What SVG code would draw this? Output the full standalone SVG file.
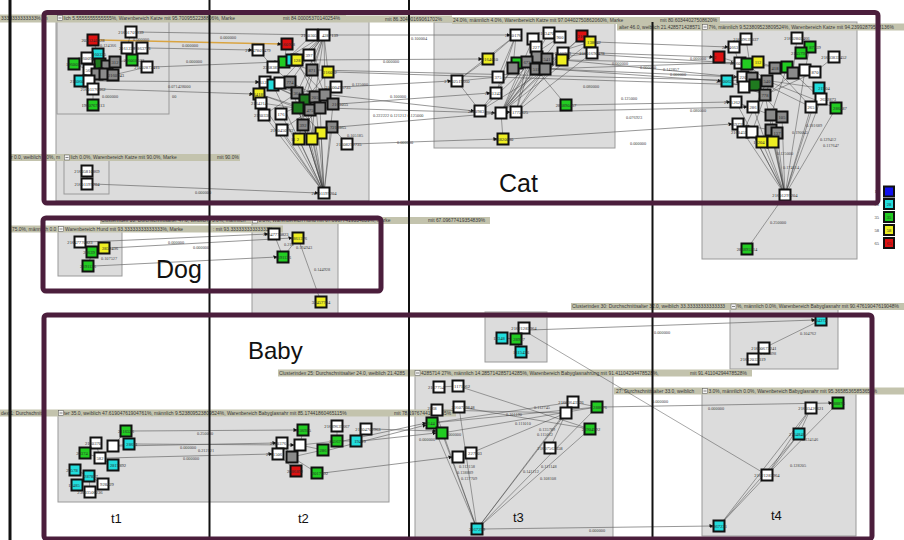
<svg xmlns="http://www.w3.org/2000/svg" width="904" height="540" viewBox="0 0 904 540">
<style>
.box{fill:#dcdcdc;stroke:#9a9a9a;stroke-width:1}
.hd{fill:#c3c3ad}
.ht{font-family:"Liberation Sans",Arial,sans-serif;font-size:4.9px;fill:#3a3a3a}
.ic{fill:#f4f4f4;stroke:#555;stroke-width:0.5}
.n{stroke:#111;stroke-width:2}
.w{fill:#fff}.g{fill:#22cc22}.c{fill:#22dddd}.y{fill:#eeee22}.r{fill:#dd1111}.b{fill:#1111ee}
.d{fill:#8a8a8a}.dg{fill:#1f7a1f}
.nt{font-family:"Liberation Serif","DejaVu Serif",serif;font-size:4.6px;fill:#2a2a2a;text-anchor:middle}
.e line{stroke:#3a3a3a;stroke-width:0.45;marker-end:url(#ah)}
.e .lg{stroke:#6a6a6a;stroke-width:0.7}
.e .or{stroke:#d9a441;stroke-width:1.4}
.el{font-family:"Liberation Serif","DejaVu Serif",serif;font-size:4.3px;fill:#444}
.vl{stroke:#111;stroke-width:2}
.fr{fill:none;stroke:#4b1e3c;stroke-width:5}
.big{font-family:"Liberation Sans",Arial,sans-serif;fill:#111}
.lt{font-family:"Liberation Serif",serif;font-size:4.5px;fill:#333;text-anchor:end}
</style>
<defs>
<marker id="ah" markerWidth="4" markerHeight="4" refX="3.5" refY="2" orient="auto" markerUnits="userSpaceOnUse">
<path d="M0,0 L4,2 L0,4 Z" fill="#111"/>
</marker>
</defs>
<rect width="904" height="540" fill="#fff"/>

<!-- cluster boxes -->
<g id="boxes">
<rect class="box" x="56" y="20" width="313" height="181"/>
<rect class="box" x="57" y="21" width="112" height="93"/>
<rect class="box" x="64" y="160" width="45" height="34"/>
<rect class="box" x="434" y="22" width="181" height="126"/>
<rect class="box" x="702" y="22" width="155" height="237"/>
<rect class="box" x="58" y="229" width="64" height="47"/>
<rect class="box" x="252" y="222" width="86" height="92"/>
<rect class="box" x="485" y="312" width="62" height="50"/>
<rect class="box" x="730" y="307" width="108" height="62"/>
<rect class="box" x="415" y="375" width="198" height="170"/>
<rect class="box" x="702" y="391" width="154" height="145"/>
<rect class="box" x="58" y="414" width="331" height="88"/>
</g>

<!-- cluster headers -->
<g id="headers">
<rect class="hd" x="0" y="15.5" width="452" height="7"/>
<text class="ht" x="339" y="21">rke</text>
<text class="ht" x="385" y="21">mit 86.30400169061702%</text>
<rect class="hd" x="0" y="14.5" width="346" height="7"/>
<text class="ht" x="1" y="20">3333333333333%, m</text>
<rect class="ic" x="57.5" y="15.5" width="5" height="5"/><path d="M58.5 18h3" stroke="#333" stroke-width="0.6"/>
<text class="ht" x="63.5" y="20">lich 5.5555555555555%, Warenbereich Katze mit 95.7009552238806%, Marke</text>
<text class="ht" x="283" y="20">mit 84.00005370140254%</text>

<rect class="hd" x="452" y="17" width="268" height="7"/>
<text class="ht" x="453" y="22.3">24.0%, männlich 4.0%, Warenbereich Katze mit 97.04402750862060%, Marke</text>
<text class="ht" x="660" y="22.3">mit 80.60344027508620%</text>

<rect class="hd" x="617" y="23.5" width="287" height="7"/>
<text class="ht" x="619" y="28.8">alter 46.0, weiblich 21.428571428571</text>
<rect class="ic" x="702.5" y="24.5" width="5" height="5"/><path d="M703.5 27h3" stroke="#333" stroke-width="0.6"/>
<text class="ht" x="708.5" y="28.8">7%, männlich 9.523809523809524%, Warenbereich Katze mit 94.23992879588136%</text>

<rect class="hd" x="10" y="154" width="230" height="7"/>
<text class="ht" x="11" y="159.3">r 0.0, weiblich 0.0%, m</text>
<rect class="ic" x="64.5" y="155" width="5" height="5"/><path d="M65.5 157.5h3" stroke="#333" stroke-width="0.6"/>
<text class="ht" x="70.5" y="159.3">lich 0.0%, Warenbereich Katze mit 90.0%, Marke</text>
<text class="ht" x="217" y="159.3">mit 90.0%</text>

<rect class="hd" x="100" y="217" width="390" height="7"/>
<text class="ht" x="101" y="222.3">Clusterindex 10: Durchschnittsalter 47.0, weiblich 75.0%, männlich</text>
<rect class="ic" x="252.5" y="218" width="5" height="5"/><path d="M253.5 220.5h3" stroke="#333" stroke-width="0.6"/>
<text class="ht" x="258.5" y="222.3">0.0%, Warenbereich Hund mit 67.09677419354839%, Marke</text>
<text class="ht" x="428" y="222.3">mit 67.09677419354839%</text>

<rect class="hd" x="10" y="225.5" width="273" height="7"/>
<text class="ht" x="12" y="230.8">75.0%, männlich 0.0</text>
<rect class="ic" x="58.5" y="226.5" width="5" height="5"/><path d="M59.5 229h3" stroke="#333" stroke-width="0.6"/>
<text class="ht" x="65" y="230.8">Warenbereich Hund mit 93.33333333333333%, Marke</text>
<text class="ht" x="213" y="230.8">: mit 93.33333333333333%</text>

<rect class="hd" x="410" y="312.5" width="300" height="5"/>
<rect class="hd" x="571" y="303" width="333" height="7"/>
<text class="ht" x="572" y="308.3">Clusterindex 30: Durchschnittsalter 32.0, weiblich 33.33333333333333</text>
<rect class="ic" x="731" y="304" width="5" height="5"/><path d="M732 306.5h3" stroke="#333" stroke-width="0.6"/>
<text class="ht" x="737" y="308.3">%, männlich 0.0%, Warenbereich Babyglasnahr mit 90.47619047619048%</text>

<rect class="hd" x="278" y="369.5" width="474" height="7"/>
<text class="ht" x="279" y="374.8">Clusterindex 25: Durchschnittsalter 24.0, weiblich 21.4285</text>
<rect class="ic" x="415" y="370.5" width="5" height="5"/><path d="M416 373h3" stroke="#333" stroke-width="0.6"/>
<text class="ht" x="421" y="374.8">4285714 27%, männlich 14.285714285714285%, Warenbereich Babyglasnahrung mit 91.41104294478528%,</text>
<text class="ht" x="690" y="374.8">mit 91.41104294478528%</text>

<rect class="hd" x="614" y="387.5" width="290" height="7"/>
<text class="ht" x="616" y="392.8">27: Durchschnittsalter 33.0, weiblich</text>
<rect class="ic" x="702.5" y="388.5" width="5" height="5"/><path d="M703.5 391h3" stroke="#333" stroke-width="0.6"/>
<text class="ht" x="708.5" y="392.8">3.0%, männlich 0.0%, Warenbereich Babyglasnahr mit 95.36585365853652%</text>

<rect class="hd" x="0" y="409.5" width="456" height="7"/>
<text class="ht" x="1" y="414.8">dex 1: Durchschnitts</text>
<rect class="ic" x="58.5" y="410.5" width="5" height="5"/><path d="M59.5 413h3" stroke="#333" stroke-width="0.6"/>
<text class="ht" x="64" y="414.8">ter 35.0, weiblich 47.61904761904761%, männlich 9.523809523809524%, Warenbereich Babyglasnahr mit 85.17441860465115%</text>
<text class="ht" x="394" y="414.8">mit 78.19767441860465%</text>
</g>

<!-- connectors -->
<g id="connectors" class="e">
<!-- cat, t1 -> t2 -> t3 -> t4 -->
<line class="or" x1="99" y1="40" x2="281" y2="44"/>
<line class="lg" x1="137" y1="32" x2="318" y2="35"/>
<line class="lg" x1="148" y1="48" x2="252" y2="50"/>
<line class="lg" x1="153" y1="67" x2="278" y2="62"/>
<line class="lg" x1="95" y1="81" x2="259" y2="82"/>
<line class="lg" x1="99" y1="89" x2="253" y2="94"/>
<line class="lg" x1="93" y1="184" x2="318" y2="193"/>
<line class="lg" x1="330" y1="35" x2="510" y2="35"/>
<line class="lg" x1="303" y1="60" x2="482" y2="59"/>
<line class="lg" x1="342" y1="87" x2="451" y2="81"/>
<line class="lg" x1="331" y1="95" x2="474" y2="111"/>
<line class="lg" x1="339" y1="104" x2="490" y2="93"/>
<line class="lg" x1="326" y1="108" x2="495" y2="113"/>
<line class="lg" x1="338" y1="127" x2="510" y2="112"/>
<line class="lg" x1="353" y1="144" x2="497" y2="139"/>
<line class="lg" x1="334" y1="72" x2="749" y2="85"/>
<line class="lg" x1="318" y1="70" x2="761" y2="81"/>
<line class="lg" x1="598" y1="53" x2="713" y2="57"/>
<line class="lg" x1="596" y1="42" x2="728" y2="47"/>
<line class="lg" x1="569" y1="53" x2="734" y2="63"/>
<line class="lg" x1="568" y1="60" x2="741" y2="64"/>
<line class="lg" x1="551" y1="69" x2="737" y2="77"/>
<line class="lg" x1="553" y1="59" x2="746" y2="78"/>
<line class="lg" x1="542" y1="69" x2="752" y2="62"/>
<line class="lg" x1="572" y1="105" x2="730" y2="102"/>
<line class="lg" x1="522" y1="112" x2="747" y2="107"/>
<line class="lg" x1="551" y1="69" x2="721" y2="81"/>
<line class="lg" x1="509" y1="139" x2="732" y2="124"/>
<!-- cat t1 inner -->
<line x1="93" y1="40" x2="98" y2="54"/>
<line x1="131" y1="32" x2="127" y2="48"/>
<line x1="127" y1="48" x2="142" y2="48"/>
<line x1="98" y1="54" x2="100" y2="64"/>
<line x1="87" y1="58" x2="89" y2="70"/>
<line x1="74" y1="64" x2="89" y2="70"/>
<line x1="132" y1="60" x2="115" y2="62"/>
<line x1="147" y1="67" x2="113" y2="75"/>
<line x1="80" y1="81" x2="89" y2="81"/>
<line x1="89" y1="81" x2="93" y2="89"/>
<line x1="93" y1="89" x2="93" y2="105"/>
<line x1="100" y1="64" x2="113" y2="75"/>
<line x1="107" y1="66" x2="97" y2="74"/>
<line x1="115" y1="62" x2="105" y2="74"/>
<line x1="89" y1="70" x2="105" y2="74"/>
<line x1="87" y1="171" x2="87" y2="184"/>
<!-- cat t2 inner -->
<line x1="299" y1="139" x2="324" y2="193"/>
<line x1="312" y1="139" x2="324" y2="193"/>
<line x1="321" y1="133" x2="324" y2="193"/>
<line x1="303" y1="125" x2="324" y2="193"/>
<line x1="282" y1="130" x2="324" y2="193"/>
<line x1="264" y1="115" x2="324" y2="193"/>
<line x1="281" y1="114" x2="324" y2="193"/>
<line x1="298" y1="108" x2="324" y2="193"/>
<line x1="310" y1="110" x2="324" y2="193"/>
<line x1="320" y1="108" x2="324" y2="193"/>
<line x1="333" y1="104" x2="324" y2="193"/>
<line x1="297" y1="93" x2="324" y2="193"/>
<line x1="305" y1="100" x2="324" y2="193"/>
<line x1="273" y1="85" x2="324" y2="193"/>
<line x1="261" y1="103" x2="324" y2="193"/>
<line x1="332" y1="127" x2="324" y2="193"/>
<line x1="290" y1="82" x2="324" y2="193"/>
<line x1="315" y1="97" x2="324" y2="193"/>
<line x1="324" y1="35" x2="309" y2="55"/>
<line x1="324" y1="35" x2="297" y2="60"/>
<line x1="324" y1="35" x2="312" y2="70"/>
<line x1="324" y1="35" x2="328" y2="72"/>
<line x1="324" y1="35" x2="290" y2="82"/>
<line x1="324" y1="35" x2="297" y2="93"/>
<line x1="324" y1="35" x2="315" y2="97"/>
<line x1="324" y1="35" x2="325" y2="95"/>
<line x1="324" y1="35" x2="305" y2="100"/>
<line x1="324" y1="35" x2="280" y2="83"/>
<line x1="324" y1="35" x2="273" y2="67"/>
<line x1="312" y1="35" x2="284" y2="62"/>
<line x1="287" y1="44" x2="284" y2="62"/>
<line x1="258" y1="50" x2="273" y2="67"/>
<line x1="273" y1="67" x2="290" y2="82"/>
<line x1="265" y1="82" x2="305" y2="100"/>
<line x1="259" y1="94" x2="298" y2="108"/>
<line x1="261" y1="103" x2="310" y2="110"/>
<line x1="280" y1="83" x2="320" y2="108"/>
<line x1="290" y1="82" x2="333" y2="104"/>
<line x1="297" y1="60" x2="315" y2="97"/>
<line x1="309" y1="55" x2="325" y2="95"/>
<line x1="328" y1="72" x2="305" y2="100"/>
<line x1="312" y1="70" x2="298" y2="108"/>
<line x1="336" y1="87" x2="297" y2="93"/>
<line x1="303" y1="125" x2="320" y2="108"/>
<line x1="282" y1="130" x2="310" y2="110"/>
<line x1="332" y1="127" x2="347" y2="144"/>
<line x1="321" y1="133" x2="298" y2="108"/>
<line x1="299" y1="139" x2="305" y2="100"/>
<line x1="312" y1="139" x2="315" y2="97"/>
<line x1="264" y1="115" x2="297" y2="93"/>
<line x1="281" y1="114" x2="325" y2="95"/>
<line x1="273" y1="85" x2="333" y2="104"/>
<line x1="265" y1="82" x2="320" y2="108"/>
<line x1="259" y1="94" x2="310" y2="110"/>
<line x1="284" y1="62" x2="312" y2="70"/>
<line x1="292" y1="60" x2="325" y2="95"/>
<!-- cat t3 inner -->
<line x1="516" y1="35" x2="498" y2="77"/>
<line x1="516" y1="35" x2="513" y2="68"/>
<line x1="516" y1="35" x2="457" y2="81"/>
<line x1="516" y1="35" x2="488" y2="59"/>
<line x1="516" y1="35" x2="496" y2="93"/>
<line x1="503" y1="139" x2="501" y2="113"/>
<line x1="501" y1="113" x2="527" y2="62"/>
<line x1="501" y1="113" x2="536" y2="69"/>
<line x1="501" y1="113" x2="545" y2="69"/>
<line x1="501" y1="113" x2="537" y2="57"/>
<line x1="501" y1="113" x2="547" y2="59"/>
<line x1="501" y1="113" x2="533" y2="39"/>
<line x1="501" y1="113" x2="549" y2="33"/>
<line x1="501" y1="113" x2="560" y2="37"/>
<line x1="501" y1="113" x2="582" y2="36"/>
<line x1="501" y1="113" x2="590" y2="42"/>
<line x1="516" y1="112" x2="527" y2="62"/>
<line x1="516" y1="112" x2="545" y2="69"/>
<line x1="516" y1="112" x2="563" y2="53"/>
<line x1="516" y1="112" x2="592" y2="53"/>
<line x1="516" y1="112" x2="536" y2="47"/>
<line x1="480" y1="111" x2="517" y2="63"/>
<line x1="480" y1="111" x2="537" y2="57"/>
<line x1="480" y1="111" x2="562" y2="60"/>
<line x1="457" y1="81" x2="498" y2="77"/>
<line x1="457" y1="81" x2="488" y2="59"/>
<line x1="457" y1="81" x2="480" y2="111"/>
<line x1="480" y1="111" x2="501" y2="113"/>
<line x1="501" y1="113" x2="516" y2="112"/>
<line x1="496" y1="93" x2="513" y2="68"/>
<line x1="566" y1="105" x2="536" y2="69"/>
<line x1="582" y1="36" x2="545" y2="69"/>
<line x1="592" y1="53" x2="547" y2="59"/>
<line x1="590" y1="42" x2="527" y2="62"/>
<line x1="560" y1="37" x2="513" y2="68"/>
<!-- cat t4 inner -->
<line x1="762" y1="142" x2="785" y2="195"/>
<line x1="773" y1="142" x2="785" y2="195"/>
<line x1="771" y1="130" x2="785" y2="195"/>
<line x1="777" y1="133" x2="785" y2="195"/>
<line x1="782" y1="117" x2="785" y2="195"/>
<line x1="771" y1="115" x2="785" y2="195"/>
<line x1="811" y1="107" x2="785" y2="195"/>
<line x1="821" y1="99" x2="785" y2="195"/>
<line x1="836" y1="108" x2="785" y2="195"/>
<line x1="753" y1="107" x2="785" y2="195"/>
<line x1="743" y1="132" x2="785" y2="195"/>
<line x1="752" y1="132" x2="785" y2="195"/>
<line x1="765" y1="95" x2="785" y2="195"/>
<line x1="819" y1="88" x2="785" y2="195"/>
<line x1="805" y1="70" x2="785" y2="195"/>
<line x1="736" y1="102" x2="785" y2="195"/>
<line x1="746" y1="39" x2="752" y2="78"/>
<line x1="734" y1="47" x2="743" y2="77"/>
<line x1="797" y1="38" x2="793" y2="73"/>
<line x1="810" y1="47" x2="805" y2="70"/>
<line x1="834" y1="57" x2="815" y2="72"/>
<line x1="719" y1="57" x2="740" y2="63"/>
<line x1="747" y1="64" x2="767" y2="81"/>
<line x1="758" y1="62" x2="793" y2="73"/>
<line x1="787" y1="67" x2="821" y2="99"/>
<line x1="775" y1="68" x2="811" y2="107"/>
<line x1="727" y1="81" x2="744" y2="87"/>
<line x1="744" y1="87" x2="765" y2="95"/>
<line x1="755" y1="85" x2="782" y2="117"/>
<line x1="767" y1="81" x2="836" y2="108"/>
<line x1="736" y1="102" x2="771" y2="115"/>
<line x1="738" y1="124" x2="771" y2="130"/>
<line x1="752" y1="78" x2="811" y2="107"/>
<line x1="743" y1="77" x2="819" y2="88"/>
<line x1="740" y1="63" x2="805" y2="70"/>
<line x1="753" y1="107" x2="793" y2="73"/>
<line x1="765" y1="95" x2="815" y2="72"/>
<line x1="771" y1="115" x2="787" y2="67"/>
<line x1="752" y1="132" x2="775" y2="68"/>
<line x1="743" y1="132" x2="767" y2="81"/>
<line x1="785" y1="195" x2="747" y2="249"/>
<!-- dog -->
<line class="lg" x1="86" y1="242" x2="268" y2="234"/>
<line class="lg" x1="110" y1="248" x2="292" y2="238"/>
<line class="lg" x1="94" y1="266" x2="277" y2="257"/>
<line x1="80" y1="242" x2="92" y2="252"/>
<line x1="92" y1="252" x2="88" y2="266"/>
<line x1="274" y1="234" x2="283" y2="257"/>
<line x1="283" y1="257" x2="298" y2="238"/>
<line x1="321" y1="302" x2="298" y2="238"/>
<!-- baby t1 / t2 -->
<line x1="126" y1="431" x2="113" y2="446"/>
<line x1="96" y1="443" x2="100" y2="458"/>
<line x1="113" y1="446" x2="100" y2="458"/>
<line x1="85" y1="453" x2="100" y2="458"/>
<line x1="100" y1="458" x2="113" y2="465"/>
<line x1="75" y1="470" x2="89" y2="476"/>
<line x1="89" y1="476" x2="77" y2="485"/>
<line x1="89" y1="476" x2="103" y2="484"/>
<line x1="89" y1="476" x2="90" y2="492"/>
<line x1="129" y1="444" x2="113" y2="446"/>
<line class="lg" x1="132" y1="431" x2="297" y2="430"/>
<line class="lg" x1="119" y1="446" x2="276" y2="443"/>
<line class="lg" x1="135" y1="444" x2="294" y2="445"/>
<line class="lg" x1="106" y1="458" x2="272" y2="454"/>
<line x1="303" y1="430" x2="300" y2="445"/>
<line x1="282" y1="443" x2="292" y2="457"/>
<line x1="300" y1="445" x2="292" y2="457"/>
<line x1="337" y1="426" x2="337" y2="441"/>
<line x1="366" y1="429" x2="356" y2="441"/>
<line x1="278" y1="454" x2="296" y2="471"/>
<line x1="292" y1="457" x2="317" y2="473"/>
<line x1="323" y1="450" x2="300" y2="445"/>
<line x1="337" y1="441" x2="300" y2="445"/>
<line x1="356" y1="441" x2="337" y2="441"/>
<line x1="323" y1="450" x2="292" y2="457"/>
<line class="lg" x1="343" y1="441" x2="426" y2="423"/>
<line class="lg" x1="362" y1="441" x2="436" y2="433"/>
<line class="lg" x1="329" y1="450" x2="426" y2="425"/>
<line class="lg" x1="372" y1="429" x2="436" y2="431"/>
<line class="lg" x1="323" y1="473" x2="452" y2="457"/>
<!-- baby t3 / t4 -->
<line x1="502" y1="338" x2="516" y2="339"/>
<line x1="516" y1="339" x2="521" y2="352"/>
<line x1="524" y1="328" x2="516" y2="339"/>
<line class="lg" x1="530" y1="330" x2="815" y2="320"/>
<line x1="821" y1="320" x2="764" y2="348"/>
<line x1="764" y1="348" x2="753" y2="359"/>
<line x1="528" y1="333" x2="767" y2="475"/>
<line x1="439" y1="387" x2="458" y2="386"/>
<line x1="458" y1="386" x2="590" y2="429"/>
<line x1="459" y1="407" x2="590" y2="429"/>
<line x1="437" y1="410" x2="566" y2="413"/>
<line x1="432" y1="423" x2="573" y2="402"/>
<line x1="442" y1="433" x2="597" y2="407"/>
<line x1="432" y1="423" x2="597" y2="407"/>
<line x1="442" y1="433" x2="477" y2="529"/>
<line x1="432" y1="423" x2="477" y2="529"/>
<line x1="459" y1="407" x2="477" y2="529"/>
<line x1="437" y1="416" x2="477" y2="529"/>
<line x1="477" y1="529" x2="566" y2="413"/>
<line x1="477" y1="529" x2="573" y2="402"/>
<line x1="477" y1="529" x2="597" y2="407"/>
<line x1="477" y1="529" x2="590" y2="429"/>
<line x1="471" y1="453" x2="566" y2="413"/>
<line x1="458" y1="457" x2="471" y2="453"/>
<line x1="550" y1="448" x2="566" y2="413"/>
<line x1="573" y1="402" x2="597" y2="407"/>
<line x1="566" y1="413" x2="573" y2="402"/>
<line class="lg" x1="483" y1="529" x2="713" y2="526"/>
<line class="lg" x1="603" y1="407" x2="832" y2="403"/>
<line x1="811" y1="408" x2="719" y2="526"/>
<line x1="838" y1="403" x2="767" y2="475"/>
<line x1="811" y1="408" x2="767" y2="475"/>
<line x1="799" y1="434" x2="719" y2="526"/>
<line x1="799" y1="434" x2="767" y2="475"/>
<line x1="767" y1="475" x2="719" y2="526"/>
<line x1="811" y1="408" x2="799" y2="434"/>
</g>

<!-- connector weights -->
<g id="weights">
<text class="el" x="100" y="47">0.124366</text>
<text class="el" x="133" y="41">0.000000</text>
<text class="el" x="102" y="98">0.000000</text>
<text class="el" x="220" y="39">0.000000</text>
<text class="el" x="182" y="47">0.000000</text>
<text class="el" x="186" y="63">0.000000</text>
<text class="el" x="168" y="88">0.071428000</text>
<text class="el" x="172" y="98">00</text>
<text class="el" x="195" y="194">0.000000</text>
<text class="el" x="411" y="40">0.100004</text>
<text class="el" x="383" y="63">0.000000</text>
<text class="el" x="352" y="86">0.125000</text>
<text class="el" x="390" y="98">0.100000</text>
<text class="el" x="373" y="117">0.222222 0.121212 0.125000</text>
<text class="el" x="347" y="137">0.105185</text>
<text class="el" x="397" y="144">0.000000</text>
<text class="el" x="612" y="65">0.000000</text>
<text class="el" x="640" y="69">0.000000</text>
<text class="el" x="663" y="71">0.142857</text>
<text class="el" x="670" y="76">0.000000</text>
<text class="el" x="583" y="88">0.080000</text>
<text class="el" x="621" y="100">0.125000</text>
<text class="el" x="626" y="119">0.076923</text>
<text class="el" x="630" y="145">0.000000</text>
<text class="el" x="690" y="112">0.080000</text>
<text class="el" x="690" y="60">0.000000</text>
<text class="el" x="806" y="127">0.181689</text>
<text class="el" x="792" y="134">0.190045</text>
<text class="el" x="820" y="141">0.129412</text>
<text class="el" x="823" y="147">0.117647</text>
<text class="el" x="777" y="155">0.125000</text>
<text class="el" x="783" y="169">0.174614</text>
<text class="el" x="770" y="224">0.250000</text>
<text class="el" x="168" y="244">0.000000</text>
<text class="el" x="193" y="249">0.000000</text>
<text class="el" x="101" y="260">0.107527</text>
<text class="el" x="284" y="246">0.218</text>
<text class="el" x="296" y="249">0.194943</text>
<text class="el" x="314" y="271">0.144928</text>
<text class="el" x="654" y="334">0.000000</text>
<text class="el" x="800" y="335">0.104762</text>
<text class="el" x="760" y="355">0.038098</text>
<text class="el" x="652" y="403">0.000000</text>
<text class="el" x="708" y="410">0.000000</text>
<text class="el" x="589" y="532">0.000000</text>
<text class="el" x="197" y="435">0.250000</text>
<text class="el" x="180" y="449">0.000000</text>
<text class="el" x="198" y="452">0.212121</text>
<text class="el" x="183" y="460">0.000000</text>
<text class="el" x="419" y="441">0.000000</text>
<text class="el" x="445" y="436">0.000000</text>
<text class="el" x="534" y="409">0.112745</text>
<text class="el" x="506" y="416">0.101190</text>
<text class="el" x="515" y="425">0.111010</text>
<text class="el" x="539" y="431">0.135789</text>
<text class="el" x="537" y="436">0.115012</text>
<text class="el" x="459" y="468">0.112158</text>
<text class="el" x="457" y="474">0.138889</text>
<text class="el" x="461" y="480">0.137709</text>
<text class="el" x="523" y="473">0.141112</text>
<text class="el" x="541" y="468">0.111148</text>
<text class="el" x="540" y="480">0.108108</text>
<text class="el" x="802" y="441">0.134146</text>
<text class="el" x="790" y="467">0.128205</text>
</g>

<!-- cat, t1 -->
<g id="k1a"><rect class="n r" x="87.5" y="34.5" width="11" height="11"/><text class="nt" x="93" y="41.8">2031241028</text></g>
<g id="k1b"><rect class="n w" x="125.5" y="26.5" width="11" height="11"/><text class="nt" x="131" y="33.8">21601707139</text></g>
<g id="k1c"><rect class="n w" x="121.5" y="42.5" width="11" height="11"/><text class="nt" x="127" y="49.8">2161228</text></g>
<g id="k1d"><rect class="n w" x="136.5" y="42.5" width="11" height="11"/><text class="nt" x="144" y="49.8">863771</text></g>
<g id="k1e"><rect class="n c" x="92.5" y="48.5" width="11" height="11"/><text class="nt" x="98" y="55.8">2160335</text></g>
<g id="k1f"><rect class="n g" x="68.5" y="58.5" width="11" height="11"/><text class="nt" x="74" y="65.8">1960032</text></g>
<g id="k1g"><rect class="n w" x="81.5" y="52.5" width="11" height="11"/><text class="nt" x="86" y="59.8">2160094</text></g>
<g id="k1h"><rect class="n dg" x="94.5" y="58.5" width="11" height="11"/></g>
<g id="k1i"><rect class="n d" x="101.5" y="60.5" width="11" height="11"/></g>
<g id="k1j"><rect class="n d" x="109.5" y="56.5" width="11" height="11"/><text class="nt" x="115" y="63.8">312</text></g>
<g id="k1k"><rect class="n g" x="126.5" y="54.5" width="11" height="11"/><text class="nt" x="134" y="61.8">216018532</text></g>
<g id="k1l"><rect class="n w" x="141.5" y="61.5" width="11" height="11"/><text class="nt" x="147" y="68.8">21602872415</text></g>
<g id="k1m"><rect class="n w" x="83.5" y="64.5" width="11" height="11"/><text class="nt" x="89" y="71.8">560</text></g>
<g id="k1n"><rect class="n d" x="91.5" y="68.5" width="11" height="11"/></g>
<g id="k1o"><rect class="n d" x="99.5" y="68.5" width="11" height="11"/></g>
<g id="k1p"><rect class="n d" x="107.5" y="69.5" width="11" height="11"/><text class="nt" x="116" y="76.8">2160943</text></g>
<g id="k1q"><rect class="n c" x="74.5" y="75.5" width="11" height="11"/><text class="nt" x="78" y="82.8">2160601</text></g>
<g id="k1r"><rect class="n w" x="83.5" y="75.5" width="11" height="11"/></g>
<g id="k1s"><rect class="n w" x="87.5" y="83.5" width="11" height="11"/><text class="nt" x="93" y="90.8">21601176362</text></g>
<g id="k1t"><rect class="n g" x="87.5" y="99.5" width="11" height="11"/><text class="nt" x="93" y="106.8">1960767313</text></g>
<g id="k1u"><rect class="n w" x="81.5" y="165.5" width="11" height="11"/><text class="nt" x="87" y="172.8">21605810869</text></g>
<g id="k1v"><rect class="n w" x="81.5" y="178.5" width="11" height="11"/><text class="nt" x="87" y="185.8">21601197204</text></g>

<!-- cat, t2 -->
<g id="k2a"><rect class="n w" x="306.5" y="29.5" width="11" height="11"/><text class="nt" x="309" y="36.8">2160305</text></g>
<g id="k2b"><rect class="n w" x="318.5" y="29.5" width="11" height="11"/><text class="nt" x="330" y="36.8">4287139</text></g>
<g id="k2c"><rect class="n r" x="281.5" y="38.5" width="11" height="11"/><text class="nt" x="287" y="45.8">2160928</text></g>
<g id="k2d"><rect class="n w" x="252.5" y="44.5" width="11" height="11"/><text class="nt" x="258" y="51.8">21647807479</text></g>
<g id="k2e"><rect class="n g" x="278.5" y="56.5" width="11" height="11"/></g>
<g id="k2f"><rect class="n c" x="286.5" y="54.5" width="11" height="11"/></g>
<g id="k2g"><rect class="n y" x="291.5" y="54.5" width="11" height="11"/><text class="nt" x="297" y="61.8">128</text></g>
<g id="k2h"><rect class="n w" x="303.5" y="49.5" width="11" height="11"/><text class="nt" x="309" y="56.8">397</text></g>
<g id="k2i"><rect class="n w" x="267.5" y="61.5" width="11" height="11"/><text class="nt" x="271" y="68.8">2368387</text></g>
<g id="k2j"><rect class="n d" x="306.5" y="64.5" width="11" height="11"/><text class="nt" x="312" y="71.8">871</text></g>
<g id="k2k"><rect class="n y" x="322.5" y="66.5" width="11" height="11"/><text class="nt" x="330" y="73.8">216052</text></g>
<g id="k2l"><rect class="n w" x="259.5" y="76.5" width="11" height="11"/><text class="nt" x="263" y="83.8">2161250</text></g>
<g id="k2m"><rect class="n c" x="267.5" y="79.5" width="11" height="11"/></g>
<g id="k2n"><rect class="n w" x="274.5" y="77.5" width="11" height="11"/></g>
<g id="k2o"><rect class="n d" x="284.5" y="76.5" width="11" height="11"/><text class="nt" x="290" y="83.8">774</text></g>
<g id="k2p"><rect class="n w" x="330.5" y="81.5" width="11" height="11"/><text class="nt" x="338" y="88.8">21600495735</text></g>
<g id="k2q"><rect class="n y" x="253.5" y="88.5" width="11" height="11"/><text class="nt" x="257" y="95.8">2164181</text></g>
<g id="k2r"><rect class="n w" x="255.5" y="97.5" width="11" height="11"/><text class="nt" x="259" y="104.8">2164214</text></g>
<g id="k2s"><rect class="n d" x="291.5" y="87.5" width="11" height="11"/><text class="nt" x="297" y="94.8">361</text></g>
<g id="k2t"><rect class="n dg" x="299.5" y="94.5" width="11" height="11"/></g>
<g id="k2u"><rect class="n d" x="309.5" y="91.5" width="11" height="11"/><text class="nt" x="315" y="98.8">205</text></g>
<g id="k2v"><rect class="n d" x="319.5" y="89.5" width="11" height="11"/></g>
<g id="k2w"><rect class="n dg" x="292.5" y="102.5" width="11" height="11"/></g>
<g id="k2x"><rect class="n d" x="304.5" y="104.5" width="11" height="11"/><text class="nt" x="310" y="111.8">475</text></g>
<g id="k2y"><rect class="n d" x="314.5" y="102.5" width="11" height="11"/></g>
<g id="k2z"><rect class="n d" x="327.5" y="98.5" width="11" height="11"/><text class="nt" x="340" y="105.8">2163055</text></g>
<g id="k2A"><rect class="n w" x="258.5" y="109.5" width="11" height="11"/><text class="nt" x="262" y="116.8">2160338</text></g>
<g id="k2B"><rect class="n w" x="275.5" y="108.5" width="11" height="11"/><text class="nt" x="281" y="115.8">176</text></g>
<g id="k2C"><rect class="n d" x="297.5" y="119.5" width="11" height="11"/><text class="nt" x="303" y="126.8">392</text></g>
<g id="k2D"><rect class="n w" x="276.5" y="124.5" width="11" height="11"/><text class="nt" x="282" y="131.8">2160450782</text></g>
<g id="k2E"><rect class="n d" x="326.5" y="121.5" width="11" height="11"/><text class="nt" x="338" y="128.8">7210865</text></g>
<g id="k2F"><rect class="n y" x="315.5" y="127.5" width="11" height="11"/></g>
<g id="k2G"><rect class="n y" x="293.5" y="133.5" width="11" height="11"/><text class="nt" x="295" y="140.8">11 2</text></g>
<g id="k2H"><rect class="n y" x="306.5" y="133.5" width="11" height="11"/></g>
<g id="k2I"><rect class="n w" x="341.5" y="138.5" width="11" height="11"/><text class="nt" x="349" y="145.8">21608292735</text></g>
<g id="k2J"><rect class="n w" x="318.5" y="187.5" width="11" height="11"/><text class="nt" x="324" y="194.8">21601197204</text></g>

<!-- cat, t3 -->
<g id="k3a"><rect class="n w" x="510.5" y="29.5" width="11" height="11"/><text class="nt" x="513" y="36.8">2160176</text></g>
<g id="k3b"><rect class="n w" x="527.5" y="33.5" width="11" height="11"/></g>
<g id="k3c"><rect class="n w" x="543.5" y="27.5" width="11" height="11"/><text class="nt" x="546" y="34.8">2163470</text></g>
<g id="k3d"><rect class="n w" x="554.5" y="31.5" width="11" height="11"/><text class="nt" x="560" y="38.8">900</text></g>
<g id="k3e"><rect class="n r" x="576.5" y="30.5" width="11" height="11"/><text class="nt" x="582" y="37.8">2160</text></g>
<g id="k3f"><rect class="n y" x="584.5" y="36.5" width="11" height="11"/><text class="nt" x="594" y="43.8">138642</text></g>
<g id="k3g"><rect class="n w" x="530.5" y="41.5" width="11" height="11"/><text class="nt" x="536" y="48.8">227</text></g>
<g id="k3h"><rect class="n d" x="531.5" y="51.5" width="11" height="11"/></g>
<g id="k3i"><rect class="n d" x="541.5" y="53.5" width="11" height="11"/><text class="nt" x="547" y="60.8">541</text></g>
<g id="k3j"><rect class="n w" x="557.5" y="47.5" width="11" height="11"/><text class="nt" x="563" y="54.8">2160983</text></g>
<g id="k3k"><rect class="n w" x="586.5" y="47.5" width="11" height="11"/><text class="nt" x="592" y="54.8">21601690478</text></g>
<g id="k3l"><rect class="n y" x="482.5" y="53.5" width="11" height="11"/><text class="nt" x="490" y="60.8">2164010</text></g>
<g id="k3m"><rect class="n g" x="511.5" y="57.5" width="11" height="11"/></g>
<g id="k3n"><rect class="n d" x="521.5" y="56.5" width="11" height="11"/><text class="nt" x="527" y="63.8">673</text></g>
<g id="k3o"><rect class="n d" x="507.5" y="62.5" width="11" height="11"/></g>
<g id="k3p"><rect class="n d" x="530.5" y="63.5" width="11" height="11"/><text class="nt" x="536" y="70.8">511</text></g>
<g id="k3q"><rect class="n d" x="539.5" y="63.5" width="11" height="11"/></g>
<g id="k3r"><rect class="n y" x="556.5" y="54.5" width="11" height="11"/></g>
<g id="k3s"><rect class="n w" x="492.5" y="71.5" width="11" height="11"/><text class="nt" x="498" y="78.8">375</text></g>
<g id="k3t"><rect class="n w" x="451.5" y="75.5" width="11" height="11"/><text class="nt" x="457" y="82.8">21602519660</text></g>
<g id="k3u"><rect class="n w" x="490.5" y="87.5" width="11" height="11"/><text class="nt" x="493" y="94.8">2161242</text></g>
<g id="k3v"><rect class="n w" x="474.5" y="105.5" width="11" height="11"/><text class="nt" x="476" y="112.8">2160983</text></g>
<g id="k3w"><rect class="n w" x="495.5" y="107.5" width="11" height="11"/></g>
<g id="k3x"><rect class="n w" x="510.5" y="106.5" width="11" height="11"/><text class="nt" x="520" y="113.8">1775825</text></g>
<g id="k3y"><rect class="n g" x="560.5" y="99.5" width="11" height="11"/><text class="nt" x="566" y="106.8">286890457</text></g>
<g id="k3z"><rect class="n y" x="497.5" y="133.5" width="11" height="11"/><text class="nt" x="503" y="140.8">286820080</text></g>

<!-- cat, t4 -->
<g id="k4a"><rect class="n w" x="740.5" y="33.5" width="11" height="11"/><text class="nt" x="746" y="40.8">21609639037</text></g>
<g id="k4b"><rect class="n w" x="728.5" y="41.5" width="11" height="11"/><text class="nt" x="730" y="48.8">2164663</text></g>
<g id="k4c"><rect class="n w" x="791.5" y="32.5" width="11" height="11"/><text class="nt" x="797" y="39.8">21602803466</text></g>
<g id="k4d"><rect class="n g" x="804.5" y="41.5" width="11" height="11"/><text class="nt" x="815" y="48.8">87339</text></g>
<g id="k4e"><rect class="n g" x="795.5" y="47.5" width="11" height="11"/><text class="nt" x="799" y="54.8">2145792</text></g>
<g id="k4f"><rect class="n w" x="828.5" y="51.5" width="11" height="11"/><text class="nt" x="834" y="58.8">21603833452</text></g>
<g id="k4g"><rect class="n r" x="713.5" y="51.5" width="11" height="11"/><text class="nt" x="714" y="58.8">12</text></g>
<g id="k4h"><rect class="n w" x="734.5" y="57.5" width="11" height="11"/><text class="nt" x="736" y="64.8">2160</text></g>
<g id="k4i"><rect class="n g" x="741.5" y="58.5" width="11" height="11"/></g>
<g id="k4j"><rect class="n y" x="752.5" y="56.5" width="11" height="11"/><text class="nt" x="758" y="63.8">112</text></g>
<g id="k4k"><rect class="n g" x="781.5" y="61.5" width="11" height="11"/></g>
<g id="k4l"><rect class="n d" x="769.5" y="62.5" width="11" height="11"/><text class="nt" x="775" y="69.8">418</text></g>
<g id="k4m"><rect class="n w" x="799.5" y="64.5" width="11" height="11"/></g>
<g id="k4n"><rect class="n w" x="809.5" y="66.5" width="11" height="11"/><text class="nt" x="815" y="73.8">870</text></g>
<g id="k4o"><rect class="n d" x="787.5" y="67.5" width="11" height="11"/></g>
<g id="k4p"><rect class="n w" x="737.5" y="71.5" width="11" height="11"/><text class="nt" x="743" y="78.8">220</text></g>
<g id="k4q"><rect class="n d" x="746.5" y="72.5" width="11" height="11"/></g>
<g id="k4r"><rect class="n d" x="761.5" y="75.5" width="11" height="11"/><text class="nt" x="767" y="82.8">540</text></g>
<g id="k4s"><rect class="n c" x="721.5" y="75.5" width="11" height="11"/><text class="nt" x="724" y="82.8">2160062</text></g>
<g id="k4t"><rect class="n w" x="738.5" y="81.5" width="11" height="11"/></g>
<g id="k4u"><rect class="n dg" x="749.5" y="79.5" width="11" height="11"/></g>
<g id="k4v"><rect class="n d" x="759.5" y="89.5" width="11" height="11"/><text class="nt" x="765" y="96.8">778</text></g>
<g id="k4w"><rect class="n c" x="813.5" y="82.5" width="11" height="11"/><text class="nt" x="824" y="89.8">21904</text></g>
<g id="k4x"><rect class="n w" x="815.5" y="93.5" width="11" height="11"/><text class="nt" x="828" y="100.8">2652873</text></g>
<g id="k4y"><rect class="n w" x="730.5" y="96.5" width="11" height="11"/><text class="nt" x="732" y="103.8">2161262</text></g>
<g id="k4z"><rect class="n w" x="747.5" y="101.5" width="11" height="11"/><text class="nt" x="753" y="108.8">286</text></g>
<g id="k4A"><rect class="n w" x="805.5" y="101.5" width="11" height="11"/><text class="nt" x="811" y="108.8">265</text></g>
<g id="k4B"><rect class="n g" x="830.5" y="102.5" width="11" height="11"/><text class="nt" x="840" y="109.8">286487</text></g>
<g id="k4C"><rect class="n d" x="765.5" y="109.5" width="11" height="11"/></g>
<g id="k4D"><rect class="n d" x="776.5" y="111.5" width="11" height="11"/><text class="nt" x="782" y="118.8">105</text></g>
<g id="k4E"><rect class="n w" x="732.5" y="118.5" width="11" height="11"/><text class="nt" x="736" y="125.8">2169735</text></g>
<g id="k4F"><rect class="n w" x="737.5" y="126.5" width="11" height="11"/><text class="nt" x="739" y="133.8">2160455</text></g>
<g id="k4G"><rect class="n w" x="746.5" y="126.5" width="11" height="11"/></g>
<g id="k4H"><rect class="n d" x="765.5" y="124.5" width="11" height="11"/></g>
<g id="k4I"><rect class="n d" x="771.5" y="127.5" width="11" height="11"/><text class="nt" x="777" y="134.8">137</text></g>
<g id="k4J"><rect class="n y" x="756.5" y="136.5" width="11" height="11"/><text class="nt" x="759" y="143.8">11204</text></g>
<g id="k4K"><rect class="n y" x="767.5" y="136.5" width="11" height="11"/></g>
<g id="k4L"><rect class="n w" x="779.5" y="189.5" width="11" height="11"/><text class="nt" x="785" y="196.8">21601297204</text></g>
<g id="k4M"><rect class="n g" x="741.5" y="243.5" width="11" height="11"/><text class="nt" x="747" y="250.8">286895214</text></g>

<!-- dog -->
<g id="d1a"><rect class="n w" x="74.5" y="236.5" width="11" height="11"/><text class="nt" x="80" y="243.8">21647770823</text></g>
<g id="d1b"><rect class="n g" x="86.5" y="246.5" width="11" height="11"/><text class="nt" x="89" y="253.8">28639</text></g>
<g id="d1c"><rect class="n y" x="98.5" y="242.5" width="11" height="11"/><text class="nt" x="110" y="249.8">2858436</text></g>
<g id="d1d"><rect class="n g" x="82.5" y="260.5" width="11" height="11"/><text class="nt" x="88" y="267.8">2891126</text></g>
<g id="d2a"><rect class="n w" x="268.5" y="228.5" width="11" height="11"/><text class="nt" x="276" y="235.8">21647770823</text></g>
<g id="d2b"><rect class="n y" x="292.5" y="232.5" width="11" height="11"/><text class="nt" x="299" y="239.8">2861376</text></g>
<g id="d2c"><rect class="n g" x="277.5" y="251.5" width="11" height="11"/><text class="nt" x="283" y="258.8">2891136</text></g>
<g id="d2d"><rect class="n y" x="315.5" y="296.5" width="11" height="11"/><text class="nt" x="321" y="303.8">33457704</text></g>

<!-- baby, t1 -->
<g id="bLa"><rect class="n g" x="120.5" y="425.5" width="11" height="11"/><text class="nt" x="126" y="432.8">2116526</text></g>
<g id="bLb"><rect class="n w" x="90.5" y="437.5" width="11" height="11"/><text class="nt" x="93" y="444.8">2160370</text></g>
<g id="bLc"><rect class="n w" x="107.5" y="440.5" width="11" height="11"/></g>
<g id="bLd"><rect class="n c" x="123.5" y="438.5" width="11" height="11"/><text class="nt" x="132" y="445.8">28611</text></g>
<g id="bLe"><rect class="n g" x="79.5" y="447.5" width="11" height="11"/><text class="nt" x="82" y="454.8">20374</text></g>
<g id="bLf"><rect class="n w" x="94.5" y="452.5" width="11" height="11"/><text class="nt" x="100" y="459.8">582</text></g>
<g id="bLg"><rect class="n c" x="107.5" y="459.5" width="11" height="11"/><text class="nt" x="118" y="466.8">2817892</text></g>
<g id="bLh"><rect class="n c" x="69.5" y="464.5" width="11" height="11"/><text class="nt" x="72" y="471.8">29578</text></g>
<g id="bLi"><rect class="n c" x="83.5" y="470.5" width="11" height="11"/><text class="nt" x="91" y="477.8">287837</text></g>
<g id="bLj"><rect class="n c" x="71.5" y="479.5" width="11" height="11"/><text class="nt" x="74" y="486.8">12485</text></g>
<g id="bLk"><rect class="n w" x="97.5" y="478.5" width="11" height="11"/><text class="nt" x="107" y="485.8">928429</text></g>
<g id="bLl"><rect class="n w" x="84.5" y="486.5" width="11" height="11"/><text class="nt" x="90" y="493.8">23603506236</text></g>

<!-- baby, t2 -->
<g id="bLm"><rect class="n g" x="297.5" y="424.5" width="11" height="11"/><text class="nt" x="303" y="431.8">2136925</text></g>
<g id="bLn"><rect class="n w" x="331.5" y="420.5" width="11" height="11"/><text class="nt" x="337" y="427.8">21689639667</text></g>
<g id="bLo"><rect class="n w" x="360.5" y="423.5" width="11" height="11"/><text class="nt" x="368" y="430.8">21604702963</text></g>
<g id="bLp"><rect class="n w" x="276.5" y="437.5" width="11" height="11"/><text class="nt" x="278" y="444.8">2160376</text></g>
<g id="bLq"><rect class="n w" x="294.5" y="439.5" width="11" height="11"/></g>
<g id="bLr"><rect class="n g" x="331.5" y="435.5" width="11" height="11"/><text class="nt" x="335" y="442.8">24167</text></g>
<g id="bLs"><rect class="n c" x="350.5" y="435.5" width="11" height="11"/><text class="nt" x="360" y="442.8">19419</text></g>
<g id="bLt"><rect class="n g" x="317.5" y="444.5" width="11" height="11"/><text class="nt" x="323" y="451.8">286</text></g>
<g id="bLu"><rect class="n w" x="272.5" y="448.5" width="11" height="11"/><text class="nt" x="274" y="455.8">2161506</text></g>
<g id="bLv"><rect class="n d" x="286.5" y="451.5" width="11" height="11"/></g>
<g id="bLw"><rect class="n r" x="290.5" y="465.5" width="11" height="11"/><text class="nt" x="295" y="472.8">2086892</text></g>
<g id="bLx"><rect class="n g" x="311.5" y="467.5" width="11" height="11"/><text class="nt" x="320" y="474.8">2017592</text></g>

<!-- baby, t3 -->
<g id="bHa"><rect class="n w" x="518.5" y="322.5" width="11" height="11"/><text class="nt" x="524" y="329.8">21621285964</text></g>
<g id="bHb"><rect class="n c" x="496.5" y="332.5" width="11" height="11"/><text class="nt" x="499" y="339.8">12348</text></g>
<g id="bHc"><rect class="n g" x="510.5" y="333.5" width="11" height="11"/><text class="nt" x="519" y="340.8">28927</text></g>
<g id="bHd"><rect class="n c" x="515.5" y="346.5" width="11" height="11"/><text class="nt" x="521" y="353.8">1315436</text></g>
<g id="bJa"><rect class="n w" x="433.5" y="381.5" width="11" height="11"/><text class="nt" x="436" y="388.8">2167754</text></g>
<g id="bJb"><rect class="n w" x="452.5" y="380.5" width="11" height="11"/><text class="nt" x="462" y="387.8">1171062</text></g>
<g id="bJc"><rect class="n w" x="431.5" y="404.5" width="11" height="11"/><text class="nt" x="432" y="409.6">2168</text></g>
<g id="bJd"><rect class="n w" x="453.5" y="401.5" width="11" height="11"/><text class="nt" x="463" y="408.8">2160729848</text></g>
<g id="bJe"><rect class="n w" x="567.5" y="396.5" width="11" height="11"/><text class="nt" x="571" y="403.8">21603643576</text></g>
<g id="bJf"><rect class="n g" x="591.5" y="401.5" width="11" height="11"/><text class="nt" x="600" y="408.8">288676</text></g>
<g id="bJg"><rect class="n w" x="560.5" y="407.5" width="11" height="11"/></g>
<g id="bJh"><rect class="n g" x="584.5" y="423.5" width="11" height="11"/><text class="nt" x="591" y="430.8">28904992</text></g>
<g id="bJi"><rect class="n g" x="426.5" y="417.5" width="11" height="11"/><text class="nt" x="429" y="424.8">22144</text></g>
<g id="bJj"><rect class="n g" x="436.5" y="427.5" width="11" height="11"/></g>
<g id="bJk"><rect class="n w" x="544.5" y="442.5" width="11" height="11"/><text class="nt" x="550" y="449.8">21607563358</text></g>
<g id="bJl"><rect class="n w" x="465.5" y="447.5" width="11" height="11"/><text class="nt" x="475" y="454.8">227903</text></g>
<g id="bJm"><rect class="n w" x="452.5" y="451.5" width="11" height="11"/></g>
<g id="bJn"><rect class="n c" x="471.5" y="523.5" width="11" height="11"/><text class="nt" x="477" y="530.8">2167299</text></g>

<!-- baby, t4 -->
<g id="bIa"><rect class="n c" x="815.5" y="314.5" width="11" height="11"/><text class="nt" x="819" y="321.8">1204274</text></g>
<g id="bIb"><rect class="n w" x="758.5" y="342.5" width="11" height="11"/><text class="nt" x="764" y="349.8">21600673241</text></g>
<g id="bIc"><rect class="n w" x="747.5" y="353.5" width="11" height="11"/><text class="nt" x="753" y="360.8">21612033319</text></g>
<g id="bKa"><rect class="n g" x="832.5" y="397.5" width="11" height="11"/><text class="nt" x="838" y="404.8">288876</text></g>
<g id="bKb"><rect class="n w" x="805.5" y="402.5" width="11" height="11"/><text class="nt" x="811" y="409.8">21603426621</text></g>
<g id="bKc"><rect class="n c" x="793.5" y="428.5" width="11" height="11"/><text class="nt" x="797" y="435.8">2164848</text></g>
<g id="bKd"><rect class="n w" x="761.5" y="469.5" width="11" height="11"/><text class="nt" x="767" y="476.8">21621285964</text></g>
<g id="bKe"><rect class="n c" x="713.5" y="520.5" width="11" height="11"/><text class="nt" x="719" y="527.8">2867231</text></g>

<!-- colour key -->
<g id="legend">
<rect class="n b" x="884" y="186.5" width="10" height="10"/><text class="lt" x="879" y="193">18</text>
<rect class="n c" x="884" y="199" width="10" height="10"/><text class="lt" x="879" y="205.5">28</text><text class="nt" x="889" y="205.5">28</text>
<rect class="n g" x="884" y="212" width="10" height="10"/><text class="lt" x="879" y="218.5">35</text><text class="nt" x="889" y="218.5">35</text>
<rect class="n y" x="884" y="225" width="10" height="10"/><text class="lt" x="879" y="231.5">58</text><text class="nt" x="889" y="231.5">58</text>
<rect class="n r" x="884" y="238" width="10" height="10"/><text class="lt" x="879" y="244.5">65</text><text class="nt" x="889" y="244.5">65</text>
</g>

<!-- time dividers -->
<g id="dividers">
<line x1="10" y1="0" x2="10" y2="540" stroke="#111" stroke-width="3"/>
<line class="vl" x1="209.5" y1="0" x2="209.5" y2="540"/>
<line class="vl" x1="409" y1="0" x2="409" y2="540"/>
<line class="vl" x1="652.5" y1="22" x2="652.5" y2="540"/>
</g>

<!-- category frames -->
<g id="frames">
<rect class="fr" x="44" y="12.5" width="834" height="190.5" rx="3"/>
<rect class="fr" x="43" y="218" width="338" height="73" rx="3"/>
<rect class="fr" x="44" y="315" width="828" height="224" rx="3"/>
</g>

<g id="titles">
<text class="big" x="499" y="192" font-size="25">Cat</text>
<text class="big" x="156" y="278" font-size="25">Dog</text>
<text class="big" x="248" y="359" font-size="24">Baby</text>
<text class="big" x="111" y="523" font-size="13">t1</text>
<text class="big" x="298" y="523" font-size="13">t2</text>
<text class="big" x="513" y="522" font-size="13">t3</text>
<text class="big" x="771" y="520" font-size="13">t4</text>
</g>
</svg>
